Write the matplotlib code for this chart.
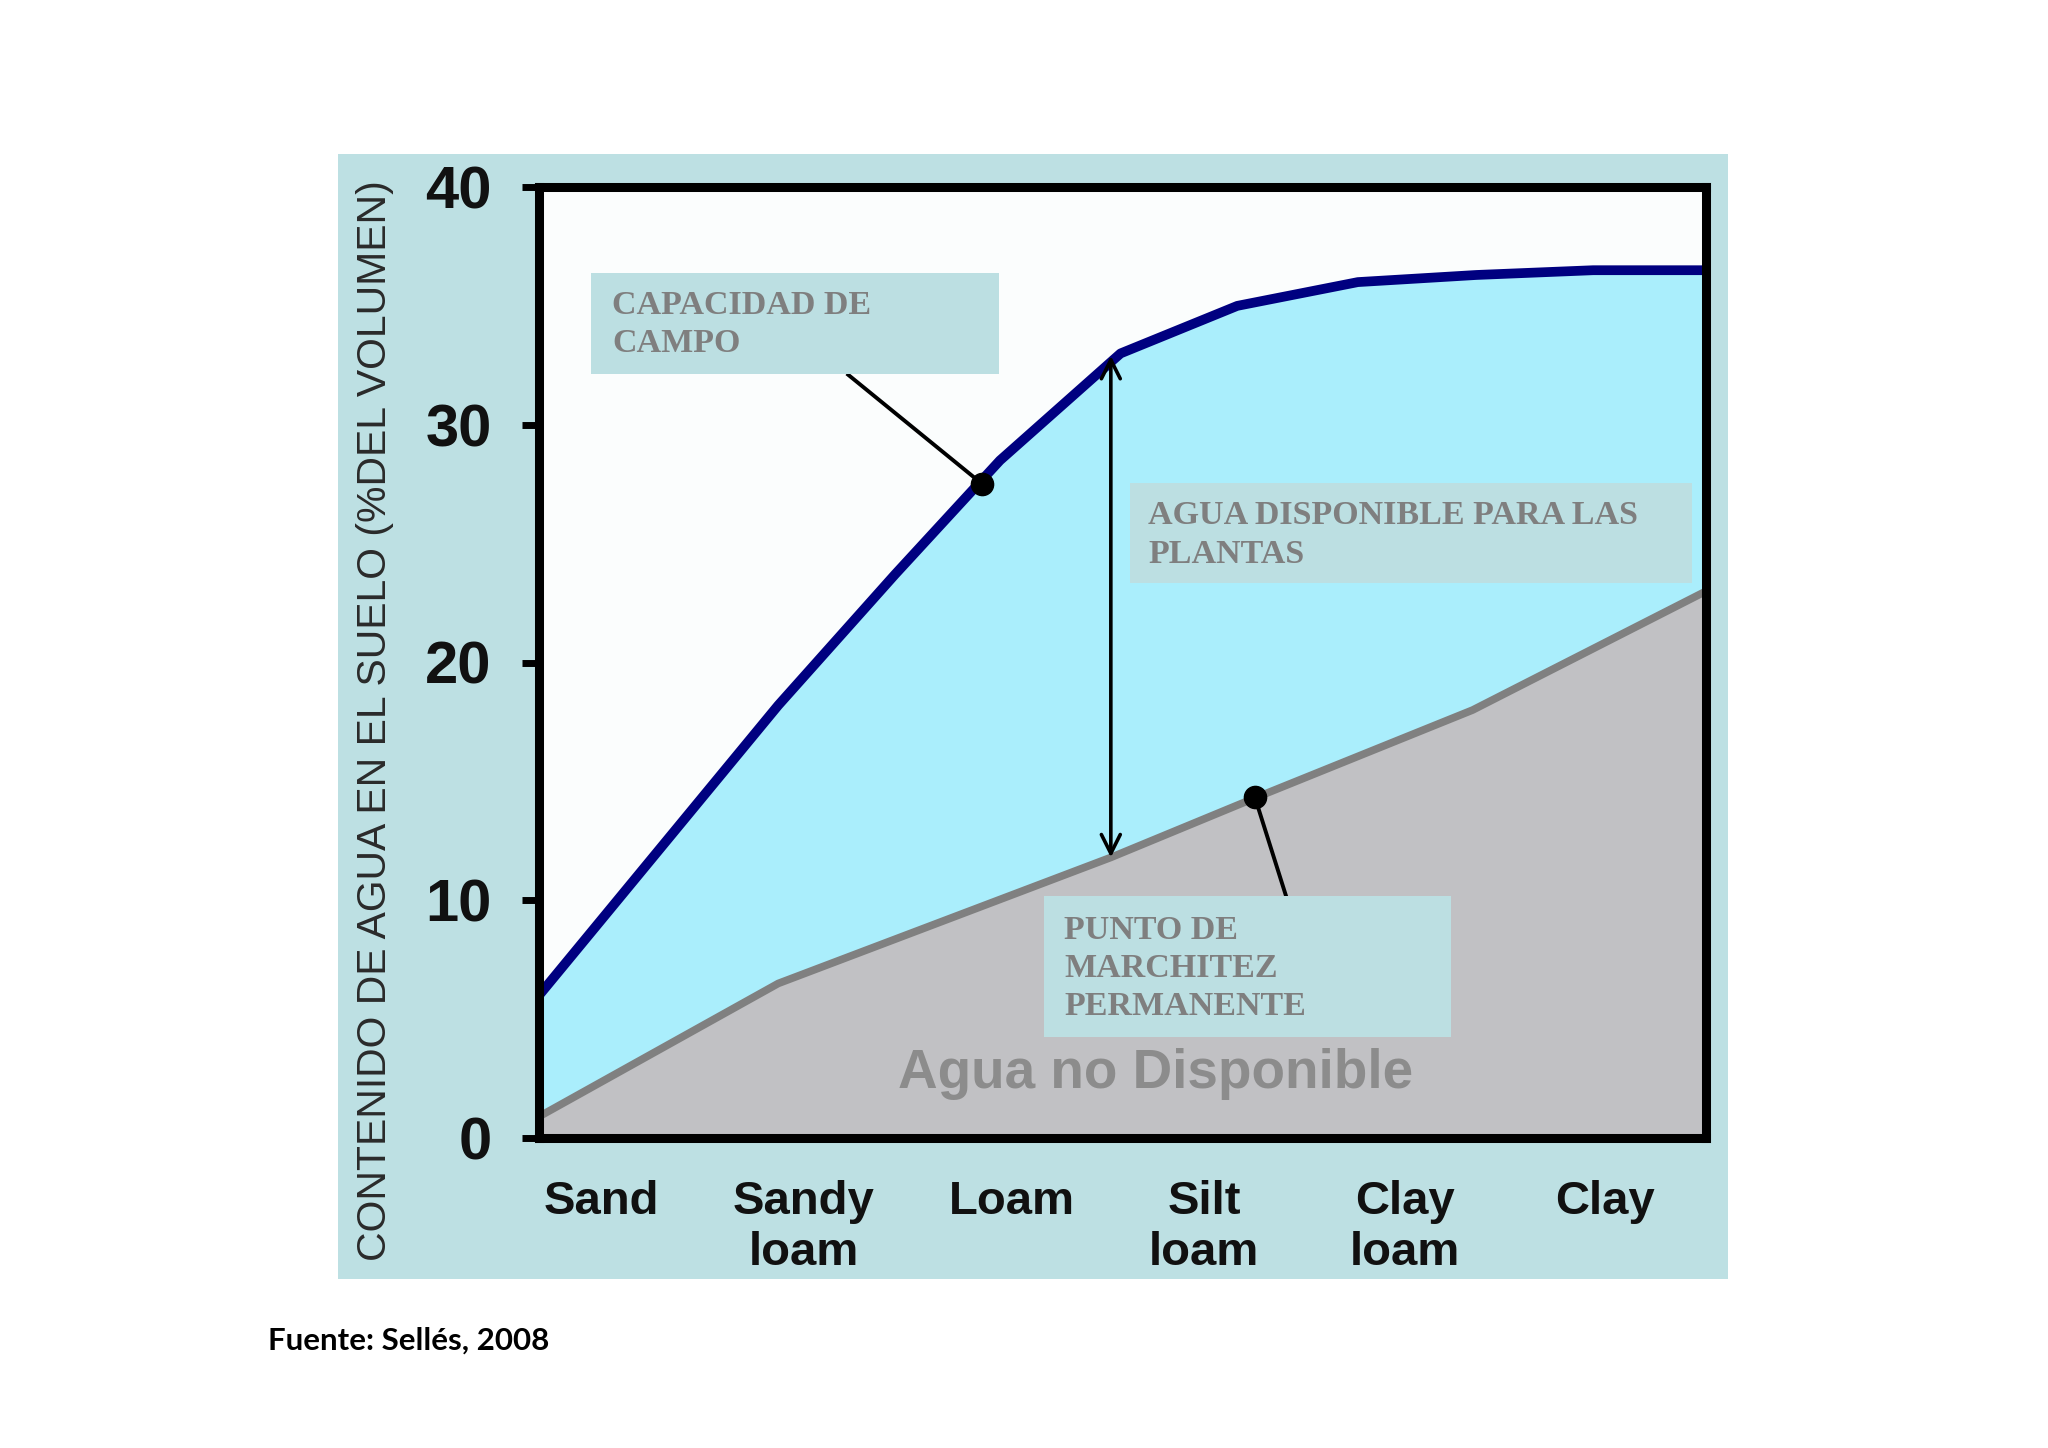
import numpy as np
import matplotlib
matplotlib.use("Agg")
import matplotlib.pyplot as plt
from matplotlib.patches import Rectangle

# ---------------- data ----------------
categories = ["Sand", "Sandy\nloam", "Loam", "Silt\nloam", "Clay\nloam", "Clay"]
cat_pos = [0.32, 1.36, 2.43, 3.42, 4.45, 5.48]

fc_x = [0.0, 1.23, 1.83, 2.37, 2.99, 3.59, 4.21, 4.82, 5.42, 6.0]
fc_y = [6.0, 18.2, 23.7, 28.5, 33.0, 35.0, 36.0, 36.3, 36.5, 36.5]   # capacidad de campo

pmp_x = [0.0, 1.23, 2.94, 3.68, 4.80, 6.0]
pmp_y = [0.9, 6.5, 11.8, 14.3, 18.0, 23.0]                          # punto de marchitez

y_ticks = [0, 10, 20, 30, 40]

W, H = 2048, 1448
fig = plt.figure(figsize=(W / 100, H / 100), dpi=100)
fig.patch.set_facecolor("white")

# light blue-gray panel
fig.patches.append(Rectangle((338 / W, 1 - 1279 / H), (1728 - 338) / W, (1279 - 154) / H,
                             transform=fig.transFigure, facecolor="#bde0e3",
                             edgecolor="none", zorder=-5))

ax = fig.add_axes([539 / W, 1 - 1138 / H, (1706 - 539) / W, (1138 - 187) / H])
ax.set_zorder(2)
ax.set_facecolor("#fbfdfd")
ax.set_xlim(0, 6)
ax.set_ylim(0, 40)

# fills
poly_x = np.concatenate([fc_x, pmp_x[::-1]])
poly_y = np.concatenate([fc_y, pmp_y[::-1]])
ax.fill(poly_x, poly_y, color="#aaeefc", lw=0, zorder=1)
ax.fill_between(pmp_x, pmp_y, 0, color="#c1c1c4", lw=0, zorder=1)

# curves
ax.plot(fc_x, fc_y, color="#000080", lw=7, solid_capstyle="butt", zorder=3)
ax.plot(pmp_x, pmp_y, color="#808080", lw=5.5, solid_capstyle="butt", zorder=3)

# double arrow (agua disponible)
ax.annotate("", xy=(2.94, 32.9), xytext=(2.94, 11.8),
            arrowprops=dict(arrowstyle="<->", lw=2.6, color="black",
                            mutation_scale=34, shrinkA=0, shrinkB=0), zorder=4)

# pointer dots and lines
ax.plot([1.59, 2.28], [32.1, 27.5], color="black", lw=2.8, zorder=4)
ax.plot([2.28], [27.5], "o", color="black", ms=16, zorder=5)
ax.plot([3.84, 3.68], [10.2, 14.35], color="black", lw=2.8, zorder=4)
ax.plot([3.68], [14.35], "o", color="black", ms=16, zorder=5)

box_color = "#bcdfe2"
txt_color = "#7f7f7f"
box_font = dict(family="Liberation Serif", weight="bold", size=24.5, color=txt_color)

def label_box(x0, x1, y0, y1, tx, ty, text, ls=1.3):
    ax.add_patch(Rectangle((x0, y0), x1 - x0, y1 - y0, facecolor=box_color,
                           edgecolor="none", zorder=6))
    ax.text(tx, ty, text, ha="left", va="center", linespacing=ls, zorder=7, **box_font)

label_box(0.269, 2.365, 32.14, 36.37, 0.376, 34.23, "CAPACIDAD DE\nCAMPO")
label_box(3.037, 5.927, 23.35, 27.53, 3.131, 25.36, "AGUA DISPONIBLE PARA LAS\nPLANTAS")
label_box(2.594, 4.690, 4.23, 10.16, 2.701, 7.14, "PUNTO DE\nMARCHITEZ\nPERMANENTE")

ax.text(3.17, 2.69, "Agua no Disponible", ha="center", va="center",
        family="Liberation Sans", weight="bold", size=39.5, color="#8c8c8c", zorder=7)

# spines / ticks
for s in ax.spines.values():
    s.set_linewidth(6.5)
    s.set_color("black")
    s.set_zorder(8)

ax.set_yticks(y_ticks)
ax.set_yticklabels([str(v) for v in y_ticks], family="Liberation Sans",
                   weight="bold", size=43, color="#111111")
ax.tick_params(axis="y", length=12, width=5, pad=22, color="black")

ax.set_xticks(cat_pos)
ax.set_xticklabels(categories, family="Liberation Sans", weight="bold",
                   size=34, color="#111111", linespacing=1.22)
ax.tick_params(axis="x", length=0, pad=30)

fig.text(375 / W, 1 - 721 / H, "CONTENIDO DE AGUA EN EL SUELO (%DEL VOLUMEN)",
         rotation=90, ha="center", va="center", family="Liberation Sans",
         size=29.4, color="#2a2a2a")

fig.text(268 / W, 1 - 1341 / H, "Fuente: Sellés, 2008", ha="left", va="center",
         family="Lato", weight="bold", size=22.5, color="black")

fig.savefig("out.png", dpi=100)
